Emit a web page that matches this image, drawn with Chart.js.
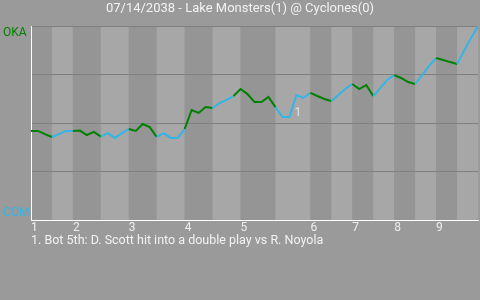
<!DOCTYPE html>
<html><head><meta charset="utf-8">
<script src="https://cdn.jsdelivr.net/npm/chart.js@4"></script>
<style>html,body{margin:0;padding:0;background:#9a9a9a;overflow:hidden}</style>
</head><body>
<canvas id="c" width="480" height="300"></canvas>
<script>
const titleText = '07/14/2038 - Lake Monsters(1) @ Cyclones(0)';
const footnoteText = '1. Bot 5th: D. Scott hit into a double play vs R. Noyola';
const awayLabel = 'OKA';
const homeLabel = 'COM';
const winProb = [
  0.459,0.459,0.443,0.428,0.443,0.459,
  0.459,0.461,0.438,0.454,0.430,0.448,0.423,0.448,
  0.469,0.459,0.495,0.479,0.428,0.448,0.423,0.423,
  0.469,0.567,0.552,0.582,0.577,0.603,0.619,0.639,
  0.675,0.649,0.608,0.608,0.634,0.582,0.531,0.531,0.644,0.629,
  0.655,0.639,0.624,0.613,0.644,0.675,
  0.701,0.675,0.696,0.639,0.680,0.722,
  0.747,0.732,0.711,0.701,0.747,0.794,
  0.835,0.825,0.814,0.804,0.871,0.938,1.0
];
const halfInningStarts = [0,3,6,10,14,18,22,26,30,35,40,43,46,49,52,55,58,61,64];
const inningLabels = ['1','2','3','4','5','6','7','8','9'];
const noteIndex = [38];
const noteText = ['1'];
const awayColoredSegments = [29];

const GREEN = '#008000', BLUE = '#33b5e5';
const DARK_BAND = '#959595', LIGHT_BAND = '#a7a7a7', BG = '#9a9a9a';
const FONT = 'Roboto, "Noto Sans", sans-serif';

function halfIndex(x){
  let k = 0;
  for (let j = 0; j < halfInningStarts.length - 1; j++) if (x >= halfInningStarts[j]) k = j;
  return k;
}

const bandsPlugin = {
  id: 'bands',
  beforeDraw(chart){
    const {ctx, chartArea: a, scales: {x}} = chart;
    ctx.save();
    ctx.fillStyle = BG;
    ctx.fillRect(0, 0, chart.width, chart.height);
    for (let j = 0; j < halfInningStarts.length - 1; j++){
      const x0 = x.getPixelForValue(halfInningStarts[j]);
      const x1 = x.getPixelForValue(halfInningStarts[j+1]);
      ctx.fillStyle = j % 2 === 0 ? DARK_BAND : LIGHT_BAND;
      ctx.fillRect(x0, a.top, x1 - x0, a.bottom - a.top);
    }
    ctx.restore();
  }
};

const textPlugin = {
  id: 'texts',
  afterDraw(chart){
    const {ctx, scales: {x, y}} = chart;
    ctx.save();
    ctx.textBaseline = 'middle';
    ctx.font = '13px ' + FONT;
    ctx.fillStyle = '#f2f2f2';
    ctx.textAlign = 'center';
    ctx.fillText(titleText, chart.width / 2, 9);
    ctx.font = '12.5px ' + FONT;
    ctx.textAlign = 'left';
    ctx.fillText(footnoteText, 31, 241);
    ctx.font = '12px ' + FONT;
    ctx.fillStyle = GREEN;
    ctx.fillText(awayLabel, 3, y.getPixelForValue(1) + 6.5);
    ctx.fillStyle = BLUE;
    ctx.fillText(homeLabel, 3, y.getPixelForValue(0) - 7.5);
    ctx.textAlign = 'center';
    ctx.fillStyle = '#e2e2e2';
    noteIndex.forEach((idx, k) => {
      ctx.fillText(noteText[k], x.getPixelForValue(idx) + 1.5, y.getPixelForValue(winProb[idx]) + 18);
    });
    ctx.restore();
  }
};

new Chart(document.getElementById('c'), {
  type: 'line',
  data: {
    datasets: [{
      data: winProb.map((v, i) => ({x: i, y: v})),
      borderWidth: 2,
      pointRadius: 0,
      pointHoverRadius: 0,
      tension: 0,
      fill: false,
      borderColor: GREEN,
      segment: {
        borderColor: c => {
          const x0 = c.p0.parsed.x;
          return (halfIndex(x0) % 2 === 0 || awayColoredSegments.includes(x0)) ? GREEN : BLUE;
        }
      }
    }]
  },
  options: {
    responsive: false,
    animation: false,
    events: [],
    layout: {padding: {top: 26, right: 2, bottom: 60, left: 0}},
    plugins: {legend: {display: false}, tooltip: {enabled: false}, title: {display: false}},
    scales: {
      x: {
        type: 'linear', min: 0, max: 64,
        afterBuildTicks: s => {
          s.ticks = halfInningStarts.filter((v, k) => k % 2 === 0 && k < halfInningStarts.length - 1).map(v => ({value: v}));
        },
        afterFit: s => { s.height = 20; },
        ticks: {
          autoSkip: false, maxRotation: 0, minRotation: 0, align: 'start', padding: 1,
          color: '#eeeeee', font: {family: FONT, size: 12},
          callback: (v, i) => inningLabels[i]
        },
        grid: {display: false, drawTicks: false},
        border: {display: true, color: '#ffffff', width: 1}
      },
      y: {
        min: 0, max: 1,
        afterFit: s => { s.width = 31; },
        ticks: {stepSize: 0.25, display: false},
        grid: {
          drawTicks: false,
          color: c => (c.tick && c.tick.value === 0) ? 'rgba(0,0,0,0)' : '#7f7f7f',
          lineWidth: 1
        },
        border: {display: true, color: '#ffffff', width: 1}
      }
    }
  },
  plugins: [bandsPlugin, textPlugin]
});
</script>
</body></html>
